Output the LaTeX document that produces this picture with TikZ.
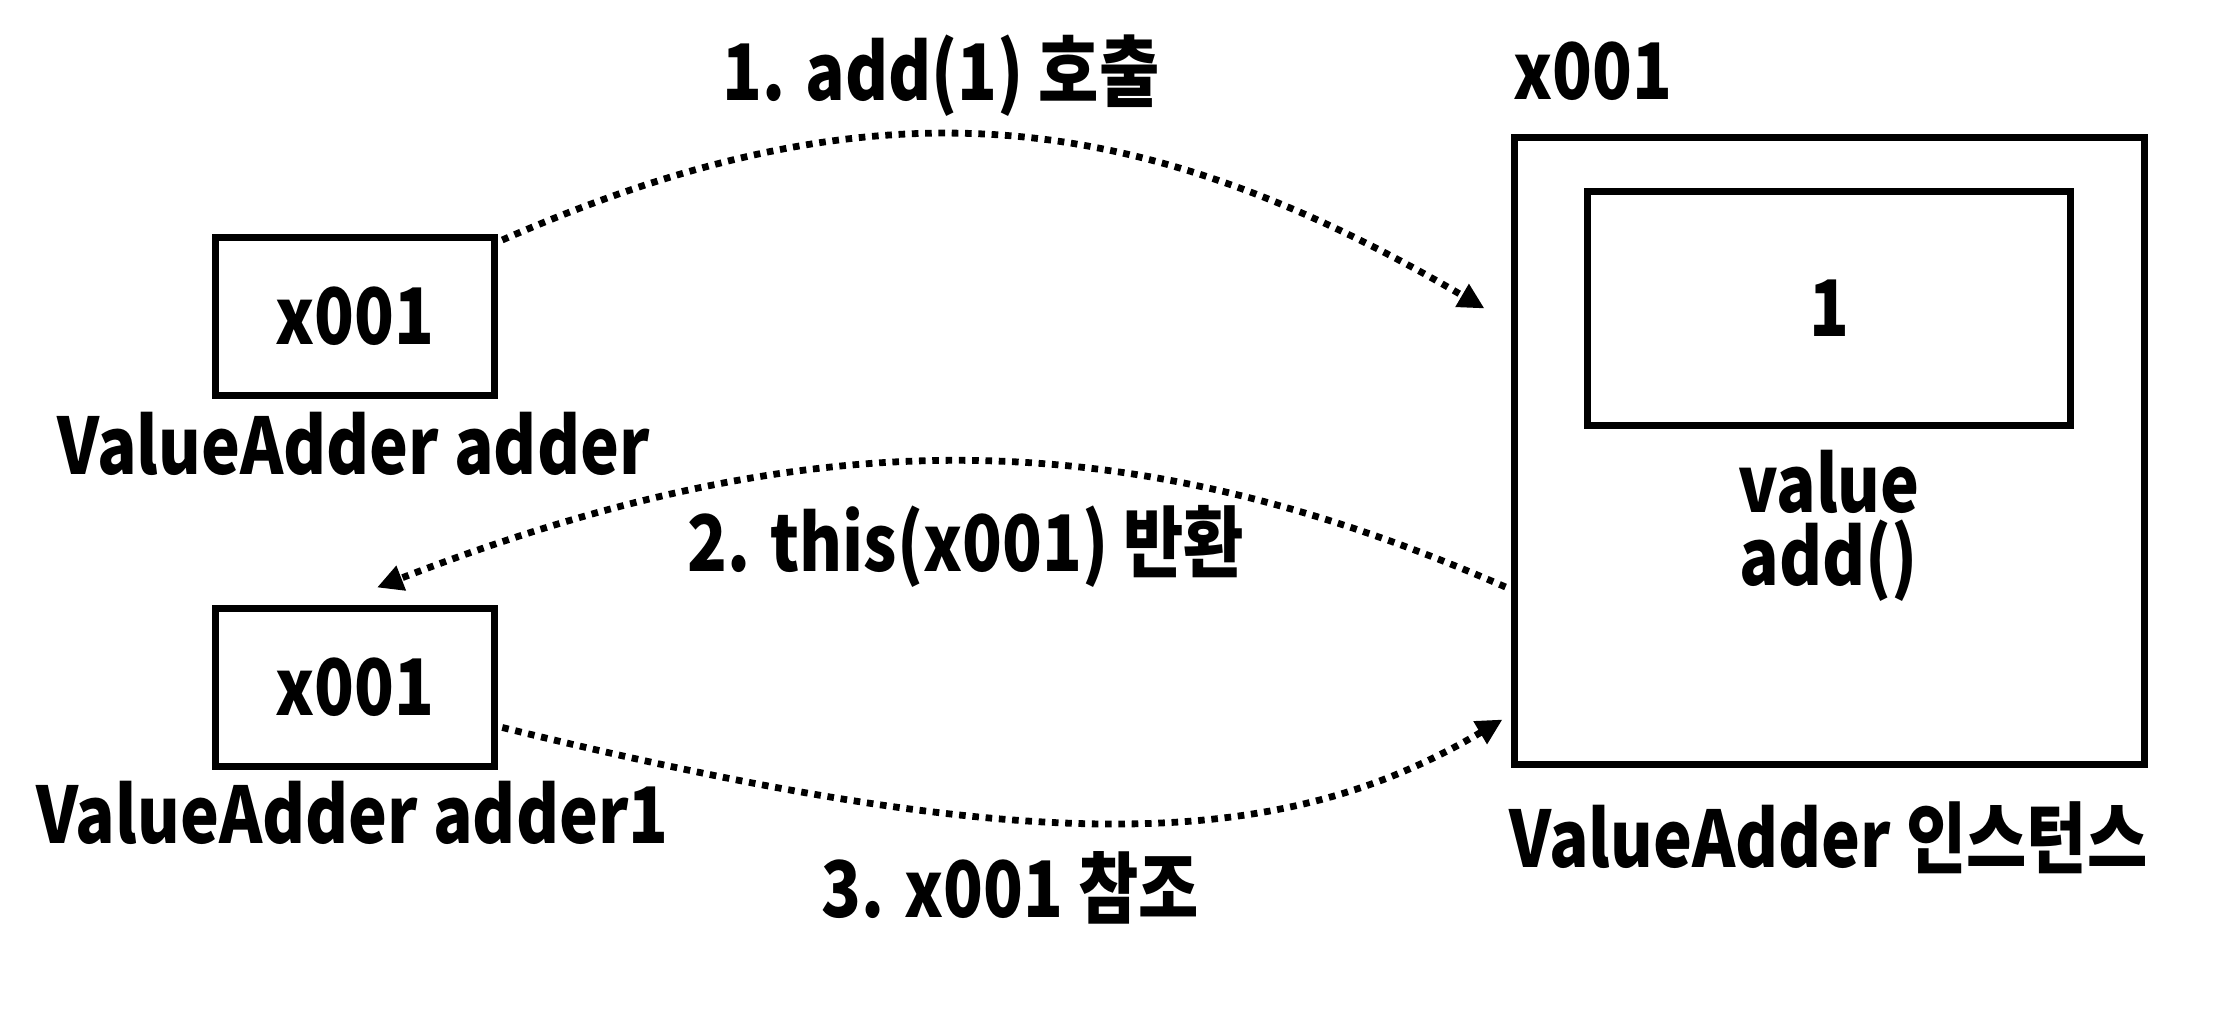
\documentclass[tikz,border=0pt]{standalone}
\usepackage{fontspec}
\setmainfont{Noto Sans CJK KR}[FakeStretch=0.84]
\usetikzlibrary{arrows.meta,calc}
\tikzset{
  box/.style={draw, line width=3.5pt, inner sep=0pt},
  lbl/.style={font=\fontsize{39pt}{46pt}\selectfont\bfseries, inner sep=0pt},
  refarrow/.style={line width=3.4pt, dash pattern=on 3.3pt off 3.35pt,
    -{Triangle[length=13pt,width=12.5pt]}},
}
\begin{document}
\begin{tikzpicture}[x=0.5pt,y=-0.5pt]
\useasboundingbox (0,0) rectangle (2238,1020);
% boxes
\node[box, lbl, minimum width=139.75pt, minimum height=79pt] (b1) at (355,316.5) {x001};
\node[box, lbl, minimum width=139.75pt, minimum height=79pt] (b2) at (355,687.5) {x001};
\node[box, minimum width=315pt, minimum height=313.5pt] (outer) at (1829,451) {};
\node[box, lbl, minimum width=241.25pt, minimum height=117pt] (inner) at (1829,308.5) {1};
% labels
\node[lbl, anchor=base] (n1) at (353.6,475) {ValueAdder adder};
\node[lbl, anchor=base] (n2) at (352.5,843) {ValueAdder adder1};
\node[lbl, anchor=base west] (addr) at (1513,100) {x001};
\node[lbl, anchor=base] (val) at (1829,513) {value};
\node[lbl, anchor=base] (meth) at (1829,586) {add()};
\node[lbl, anchor=base] (inst) at (1828.5,867) {ValueAdder 인스턴스};
\node[lbl, anchor=base] (s1) at (941,101) {1. add(1) 호출};
\node[lbl, anchor=base] (s2) at (966,572) {2. this(x001) 반환};
\node[lbl, anchor=base] (s3) at (1010,917) {3. x001 참조};
% connectors
\draw[refarrow] ($(b1.north east)+(4,6)$) .. controls (866,81) and (1127,99) .. ($(outer.north west)+(-26,174.5)$);
\draw[refarrow] ($(outer.west)+(-5,136)$) .. controls (1120,419) and (810,420) .. ($(b2.north)+(22,-17.5)$);
\draw[refarrow] ($(b2.east)+(4,40)$) .. controls (1029,857) and (1276,854) .. ($(outer.south west)+(-8,-48.5)$);
\end{tikzpicture}
\end{document}
